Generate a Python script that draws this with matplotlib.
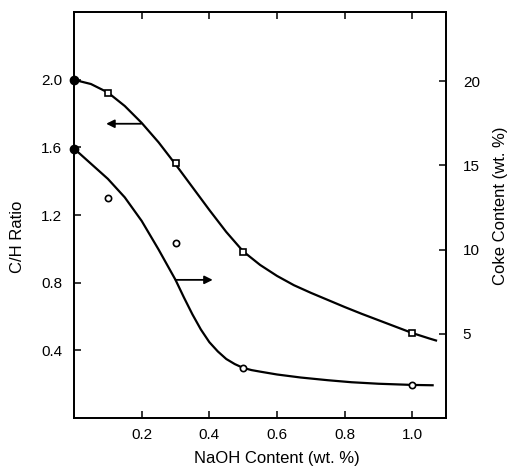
import numpy as np
from matplotlib import pyplot as plt

# measured points
naoh = [0.0, 0.1, 0.3, 0.5, 1.0]
ch_ratio = [2.00, 1.92, 1.51, 0.98, 0.50]
coke = [16.0, 13.05, 10.4, 2.97, 1.96]

# smooth fitted curves
ch_curve_x = [0.0, 0.05, 0.10, 0.15, 0.20, 0.25, 0.30, 0.35, 0.40, 0.45, 0.50,
              0.55, 0.60, 0.65, 0.70, 0.75, 0.80, 0.85, 0.90, 0.95, 1.00,
              1.05, 1.07]
ch_curve_y = [2.000, 1.975, 1.925, 1.845, 1.745, 1.630, 1.500, 1.365, 1.230,
              1.100, 0.985, 0.905, 0.840, 0.785, 0.740, 0.698, 0.656, 0.616,
              0.578, 0.540, 0.502, 0.470, 0.458]
coke_curve_x = [0.0, 0.05, 0.10, 0.15, 0.20, 0.25, 0.30, 0.325, 0.35, 0.375,
                0.40, 0.425, 0.45, 0.475, 0.50, 0.525, 0.55, 0.60, 0.67,
                0.75, 0.82, 0.90, 1.00, 1.06]
coke_curve_y = [16.0, 15.1, 14.2, 13.1, 11.7, 10.0, 8.2, 7.15, 6.15, 5.25,
                4.5, 3.95, 3.5, 3.2, 2.97, 2.84, 2.75, 2.58, 2.40,
                2.24, 2.12, 2.03, 1.96, 1.94]

xticks = [0.2, 0.4, 0.6, 0.8, 1.0]
ch_ticks = [0.4, 0.8, 1.2, 1.6, 2.0]
coke_ticks = [5, 10, 15, 20]

plt.rcParams['font.family'] = ['Liberation Sans', 'DejaVu Sans']

fig = plt.figure(figsize=(5.07, 4.68), dpi=100)
ax = fig.add_axes([0.146, 0.107, 0.734, 0.867])
ax2 = ax.twinx()

ax.plot(ch_curve_x, ch_curve_y, color='black', lw=1.6, clip_on=False,
        solid_joinstyle='round')
ax.plot(naoh[1:], ch_ratio[1:], linestyle='none', marker='s', ms=4.5,
        mfc='white', mec='black', mew=1.2, zorder=5)
ax.plot(naoh[:1], ch_ratio[:1], linestyle='none', marker='o', ms=6,
        color='black', clip_on=False, zorder=6)

ax2.plot(coke_curve_x, coke_curve_y, color='black', lw=1.6, clip_on=False,
         solid_joinstyle='round')
ax2.plot(naoh[1:], coke[1:], linestyle='none', marker='o', ms=4.5,
         mfc='white', mec='black', mew=1.2, zorder=5)
ax2.plot(naoh[:1], coke[:1], linestyle='none', marker='o', ms=6,
         color='black', clip_on=False, zorder=6)

arrow = dict(arrowstyle='-|>', color='black', lw=1.3, mutation_scale=12,
             shrinkA=0, shrinkB=0)
ax.annotate('', xy=(0.095, 1.74), xytext=(0.198, 1.74), arrowprops=arrow)
ax2.annotate('', xy=(0.41, 8.2), xytext=(0.30, 8.2), arrowprops=arrow)

ax.set_xlim(0, 1.1)
ax.set_ylim(0, 2.4)
ax2.set_ylim(0, 24.1)

ax.set_xticks(xticks)
ax.set_xticklabels([f'{v:.1f}' for v in xticks])
ax.set_yticks(ch_ticks)
ax.set_yticklabels([f'{v:.1f}' for v in ch_ticks])
ax2.set_yticks(coke_ticks)

ax.tick_params(axis='x', direction='in', top=True, length=5, width=1.1,
               labelsize=11, pad=7)
ax.tick_params(axis='y', direction='in', length=5, width=1.1,
               labelsize=11, pad=8.5)
ax2.tick_params(axis='y', direction='in', length=5, width=1.1,
                labelsize=11, pad=12)

for a in (ax, ax2):
    for s in a.spines.values():
        s.set_linewidth(1.3)

ax.set_xlabel('NaOH Content (wt. %)', fontsize=12)
ax.set_ylabel('C/H Ratio', fontsize=12)
ax2.set_ylabel('Coke Content (wt. %)', fontsize=12)
ax.xaxis.set_label_coords(0.546, -0.101)
ax.xaxis.label.set_va('center')
ax.yaxis.set_label_coords(-0.151, 0.446)
ax.yaxis.label.set_va('center')
ax2.yaxis.set_label_coords(1.145, 0.522)
ax2.yaxis.label.set_va('center')

fig.savefig('out.png', dpi=100)
